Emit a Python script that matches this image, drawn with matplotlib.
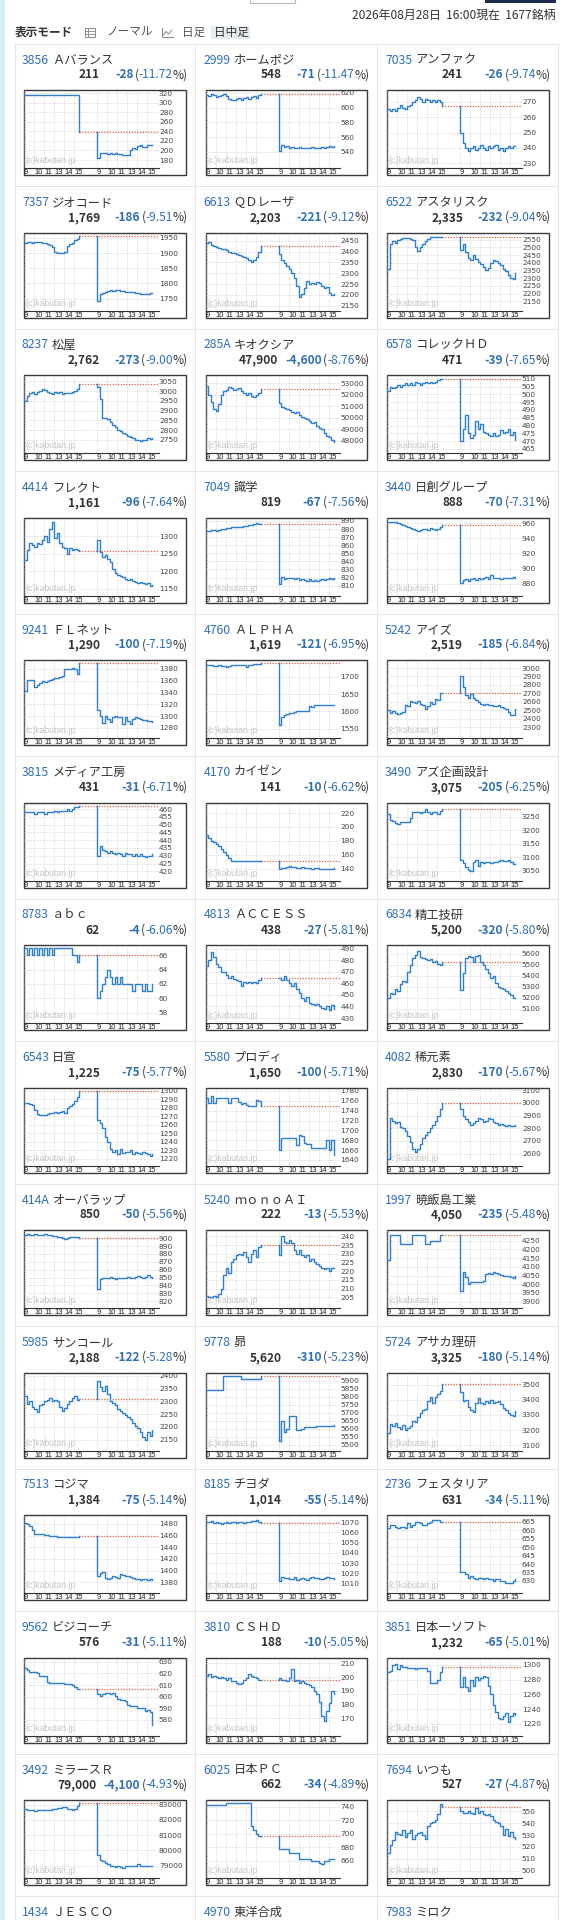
"""Kabutan-style ranking page: a 3-column grid of 2-day intraday mini charts."""
import numpy as np
import matplotlib
matplotlib.use("Agg")
import matplotlib.pyplot as plt  # noqa: E402
from matplotlib.patches import Rectangle  # noqa: E402

plt.rcParams["font.family"] = ["Noto Sans CJK JP", "DejaVu Sans"]

# ---- header / ticker data -------------------------------------------------
codes = ["3856", "2999", "7035", "7357", "6613", "6522", "8237", "285A", "6578",
         "4414", "7049", "3440", "9241", "4760", "5242", "3815", "4170", "3490",
         "8783", "4813", "6834", "6543", "5580", "4082", "414A", "5240", "1997",
         "5985", "9778", "5724", "7513", "8185", "2736", "9562", "3810", "3851",
         "3492", "6025", "7694"]
names = ["Ａバランス", "ホームポジ", "アンファク", "ジオコード", "ＱＤレーザ", "アスタリスク",
         "松屋", "キオクシア", "コレックＨＤ", "フレクト", "識学", "日創グループ",
         "ＦＬネット", "ＡＬＰＨＡ", "アイズ", "メディア工房", "カイゼン", "アズ企画設計",
         "ａｂｃ", "ＡＣＣＥＳＳ", "精工技研", "日宣", "プロディ", "稀元素",
         "オーバラップ", "ｍｏｎｏＡＩ", "暁飯島工業", "サンコール", "昴", "アサカ理研",
         "コジマ", "チヨダ", "フェスタリア", "ビジコーチ", "ＣＳＨＤ", "日本一ソフト",
         "ミラースＲ", "日本ＰＣ", "いつも"]
prices = [211, 548, 241, 1769, 2203, 2335, 2762, 47900, 471,
          1161, 819, 888, 1290, 1619, 2519, 431, 141, 3075,
          62, 438, 5200, 1225, 1650, 2830, 850, 222, 4050,
          2188, 5620, 3325, 1384, 1014, 631, 576, 188, 1232,
          79000, 662, 527]
changes = [-28, -71, -26, -186, -221, -232, -273, -4600, -39,
           -96, -67, -70, -100, -121, -185, -31, -10, -205,
           -4, -27, -320, -75, -100, -170, -50, -13, -235,
           -122, -310, -180, -75, -55, -34, -31, -10, -65,
           -4100, -34, -27]
pcts = [-11.72, -11.47, -9.74, -9.51, -9.12, -9.04, -9.00, -8.76, -7.65,
        -7.64, -7.56, -7.31, -7.19, -6.95, -6.84, -6.71, -6.62, -6.25,
        -6.06, -5.81, -5.80, -5.77, -5.71, -5.67, -5.56, -5.53, -5.48,
        -5.28, -5.23, -5.14, -5.14, -5.14, -5.11, -5.11, -5.05, -5.01,
        -4.93, -4.89, -4.87]
more_codes = ["1434", "4970", "7983"]
more_names = ["ＪＥＳＣＯ", "東洋合成", "ミロク"]

# y ranges and tick spec per chart
y_lo = [163.3, 518.3, 227, 1711, 2128, 2090, 2683, 46923, 462.4,
        1130, 797.8, 864.4, 1263, 1523, 2174, 414.1, 123, 3014.8,
        56.6, 425.7, 4970, 1212, 1628.8, 2506.6, 811.4, 198.9, 3863.5,
        2107.5, 5463.7, 3066, 1361.7, 1000.5, 622.9, 566.7, 157.5, 1203.9,
        78191, 634.3, 493.8]
y_hi = [326.3, 624, 277.6, 1968, 2488, 2597, 3082, 53727, 512.4,
        1354, 894.3, 967.3, 1395, 1749.3, 3094.6, 464.2, 235.1, 3303.7,
        67.4, 493.2, 5679, 1304, 1787, 3122, 910.3, 243.6, 4311.5,
        2413.7, 5951, 3580, 1495.4, 1077.2, 668.9, 633.6, 214.2, 1310.2,
        83306, 749.9, 559.6]
tick_first = [180, 540, 230, 1750, 2150, 2150, 2750, 48000, 465,
              1150, 810, 880, 1280, 1550, 2300, 420, 140, 3050,
              58, 430, 5100, 1220, 1640, 2600, 820, 205, 3900,
              2150, 5500, 3100, 1380, 1010, 630, 580, 170, 1220,
              79000, 660, 500]
tick_last = [320, 620, 270, 1950, 2450, 2550, 3050, 53000, 510,
             1300, 890, 960, 1380, 1700, 3000, 460, 220, 3250,
             66, 490, 5600, 1300, 1780, 3100, 900, 240, 4250,
             2400, 5900, 3500, 1480, 1070, 665, 630, 210, 1300,
             83000, 740, 550]
tick_step = [20, 20, 10, 50, 50, 50, 50, 1000, 5,
             50, 10, 20, 20, 50, 100, 5, 20, 50,
             2, 10, 100, 10, 20, 100, 10, 5, 50,
             50, 50, 100, 20, 10, 5, 10, 10, 20,
             1000, 20, 10]

hours = ["9", "10", "11", "13", "14", "15"]

# ---- intraday prices, 15-minute steps (d1 = previous day, d2 = today) ------
d1_3856 = [315, 315, 315, 315, 315, 315, 315, 315, 315, 315, 315, 315, 315, 315, 315, 315, 315, 315, 315, 315, 315, 315, 239]
d2_3856 = [184, 195, 194, 195, 193, 194, 192, 195, 193, 192, 191, 190, 190, 200, 206, 204, 209, 212, 207, 208, 211, 212, 211]
d1_2999 = [617, 616, 618, 617, 615, 616, 617, 618, 616, 612, 610, 611, 612, 613, 611, 613, 614, 612, 615, 616, 613, 617, 619]
d2_2999 = [541, 549, 547, 548, 546, 547, 545, 546, 547, 545, 546, 545, 546, 547, 546, 545, 546, 547, 546, 547, 548, 547, 548]
d1_7035 = [265, 264, 265, 264, 266, 268, 266, 265, 267, 268, 270, 271, 273, 272, 270, 272, 271, 270, 271, 270, 271, 270, 267]
d2_7035 = [250, 243, 240, 238, 240, 241, 239, 240, 242, 240, 239, 241, 240, 241, 242, 239, 240, 238, 240, 241, 240, 241, 241]
d1_7357 = [1935, 1937, 1936, 1935, 1936, 1938, 1937, 1935, 1933, 1930, 1928, 1920, 1905, 1900, 1900, 1901, 1903, 1925, 1930, 1935, 1942, 1948, 1955]
d2_7357 = [1742, 1765, 1770, 1772, 1775, 1778, 1776, 1778, 1777, 1775, 1774, 1773, 1772, 1772, 1771, 1770, 1768, 1766, 1765, 1766, 1767, 1768, 1769]
d1_6613 = [2440, 2445, 2430, 2425, 2420, 2418, 2410, 2412, 2405, 2400, 2395, 2392, 2390, 2385, 2380, 2375, 2370, 2360, 2352, 2360, 2375, 2400, 2424]
d2_6613 = [2390, 2360, 2345, 2335, 2320, 2300, 2280, 2240, 2190, 2205, 2230, 2265, 2250, 2255, 2250, 2260, 2255, 2240, 2230, 2235, 2210, 2200, 2203]
d1_6522 = [2360, 2520, 2540, 2530, 2545, 2555, 2560, 2558, 2560, 2555, 2545, 2500, 2475, 2500, 2520, 2540, 2555, 2567, 2567, 2567, 2567, 2567, 2567]
d2_6522 = [2480, 2520, 2470, 2430, 2420, 2450, 2425, 2405, 2395, 2370, 2350, 2365, 2400, 2420, 2410, 2400, 2385, 2360, 2345, 2320, 2300, 2295, 2335]
d1_8237 = [2950, 2975, 2990, 2995, 2985, 2995, 3000, 3010, 3005, 2995, 2990, 2985, 2995, 2990, 2993, 2985, 2990, 2988, 2992, 2995, 3000, 3010, 3035]
d2_8237 = [3020, 2960, 2860, 2860, 2855, 2840, 2825, 2815, 2800, 2795, 2785, 2780, 2772, 2765, 2760, 2752, 2750, 2745, 2748, 2752, 2760, 2755, 2762]
d1_285A = [52800, 52000, 51400, 50800, 50600, 51200, 52000, 52300, 52400, 52700, 52600, 52400, 52500, 52600, 52300, 52200, 52000, 52200, 51900, 51800, 52000, 52200, 52500]
d2_285A = [51300, 50900, 50850, 50800, 50650, 50500, 50400, 50500, 50200, 50100, 50000, 49850, 49700, 49500, 49600, 49300, 49100, 49000, 48700, 48400, 48300, 48100, 47900]
d1_6578 = [502, 505, 504, 505, 506, 505, 506, 507, 506, 507, 506, 508, 507, 506, 507, 508, 507, 508, 507, 508, 509, 510, 510]
d2_6578 = [470, 478, 487, 475, 472, 474, 483, 478, 481, 476, 475, 474, 473, 475, 473, 474, 477, 475, 476, 478, 474, 476, 471]
d1_4414 = [1232, 1260, 1280, 1275, 1270, 1282, 1278, 1290, 1300, 1285, 1320, 1340, 1295, 1310, 1280, 1270, 1265, 1250, 1265, 1262, 1264, 1262, 1257]
d2_4414 = [1290, 1255, 1240, 1245, 1235, 1225, 1205, 1195, 1190, 1185, 1182, 1178, 1175, 1178, 1172, 1170, 1166, 1168, 1165, 1163, 1165, 1157, 1161]
d1_7049 = [878, 878, 879, 879, 878, 879, 880, 880, 881, 881, 882, 883, 883, 882, 883, 884, 884, 885, 885, 886, 887, 886, 886]
d2_7049 = [812, 821, 818, 820, 819, 820, 818, 820, 817, 818, 817, 816, 818, 816, 817, 816, 817, 818, 817, 818, 819, 818, 819]
d1_3440 = [962, 962, 961, 961, 960, 959, 957, 956, 955, 953, 952, 951, 950, 951, 952, 952, 951, 953, 952, 951, 952, 955, 958]
d2_3440 = [881, 885, 886, 884, 886, 887, 885, 887, 886, 888, 889, 886, 891, 887, 888, 887, 886, 887, 888, 887, 888, 889, 888]
d1_9241 = [1342, 1362, 1362, 1362, 1350, 1352, 1356, 1360, 1358, 1360, 1362, 1363, 1364, 1365, 1366, 1368, 1380, 1380, 1380, 1381, 1380, 1372, 1390]
d2_9241 = [1310, 1300, 1288, 1300, 1296, 1290, 1298, 1300, 1299, 1298, 1286, 1298, 1292, 1287, 1296, 1298, 1297, 1296, 1294, 1293, 1292, 1291, 1290]
d1_4760 = [1735, 1735, 1734, 1733, 1733, 1734, 1733, 1733, 1728, 1733, 1734, 1735, 1735, 1735, 1736, 1735, 1728, 1735, 1736, 1737, 1737, 1738, 1740]
d2_4760 = [1560, 1585, 1590, 1592, 1595, 1596, 1598, 1600, 1600, 1601, 1602, 1600, 1615, 1612, 1618, 1618, 1618, 1618, 1618, 1618, 1618, 1619, 1619]
d1_5242 = [2500, 2470, 2490, 2465, 2460, 2470, 2480, 2560, 2555, 2610, 2600, 2585, 2615, 2580, 2560, 2520, 2550, 2600, 2580, 2640, 2620, 2700, 2704]
d2_5242 = [2900, 2780, 2680, 2650, 2690, 2650, 2620, 2600, 2580, 2560, 2570, 2565, 2560, 2550, 2555, 2560, 2545, 2530, 2520, 2480, 2440, 2450, 2519]
d1_3815 = [458, 458, 458, 458, 457, 458, 458, 458, 457, 458, 458, 458, 459, 458, 459, 459, 459, 460, 459, 460, 461, 461, 462]
d2_3815 = [430, 436, 434, 433, 432, 433, 432, 431, 432, 431, 430, 432, 431, 431, 430, 431, 430, 431, 430, 429, 430, 430, 431]
d1_4170 = [188, 184, 180, 178, 175, 172, 168, 164, 160, 156, 151, 151, 151, 151, 151, 151, 151, 151, 151, 151, 151, 151, 151]
d2_4170 = [140, 141, 141, 142, 144, 143, 142, 141, 141, 142, 141, 141, 141, 140, 141, 141, 140, 140, 140, 139, 140, 140, 141]
d1_3490 = [3260, 3240, 3235, 3228, 3225, 3230, 3230, 3232, 3230, 3248, 3268, 3270, 3268, 3266, 3270, 3278, 3270, 3262, 3270, 3268, 3262, 3272, 3280]
d2_3490 = [3090, 3080, 3065, 3055, 3050, 3082, 3090, 3070, 3085, 3080, 3082, 3085, 3080, 3082, 3085, 3088, 3090, 3086, 3088, 3092, 3084, 3076, 3075]
d1_8783 = [67, 66, 67, 66, 67, 66, 67, 66, 67, 66, 67, 66, 67, 67, 67, 67, 67, 67, 67, 66, 66, 65, 66]
d2_8783 = [60, 61, 62, 63, 64, 63, 62, 63, 62, 63, 62, 62, 62, 62, 61, 62, 62, 62, 61, 62, 61, 61, 62]
d1_4813 = [475, 480, 487, 483, 477, 474, 470, 470, 467, 465, 466, 464, 463, 462, 458, 461, 460, 461, 460, 461, 460, 463, 465]
d2_4813 = [465, 463, 466, 463, 460, 458, 460, 455, 452, 447, 445, 448, 443, 442, 441, 442, 440, 439, 438, 440, 437, 441, 438]
d1_6834 = [5200, 5240, 5230, 5280, 5260, 5320, 5350, 5340, 5430, 5500, 5560, 5590, 5620, 5570, 5560, 5550, 5540, 5550, 5520, 5530, 5510, 5500, 5520]
d2_6834 = [5270, 5420, 5560, 5580, 5570, 5520, 5580, 5590, 5520, 5500, 5460, 5420, 5380, 5400, 5330, 5300, 5290, 5280, 5260, 5240, 5220, 5200, 5200]
d1_6543 = [1286, 1286, 1285, 1283, 1278, 1273, 1272, 1272, 1272, 1273, 1274, 1274, 1275, 1274, 1275, 1276, 1274, 1280, 1282, 1285, 1288, 1293, 1300]
d2_6543 = [1266, 1262, 1256, 1246, 1240, 1232, 1228, 1230, 1226, 1232, 1227, 1228, 1228, 1230, 1226, 1228, 1227, 1226, 1228, 1227, 1226, 1223, 1225]
d1_5580 = [1765, 1755, 1770, 1756, 1765, 1765, 1765, 1765, 1765, 1755, 1765, 1765, 1765, 1758, 1753, 1755, 1751, 1750, 1750, 1750, 1762, 1760, 1750]
d2_5580 = [1660, 1685, 1685, 1685, 1685, 1685, 1685, 1670, 1690, 1688, 1675, 1672, 1672, 1665, 1664, 1664, 1664, 1664, 1664, 1680, 1660, 1680, 1650]
d1_4082 = [2560, 2880, 2860, 2840, 2850, 2810, 2800, 2775, 2740, 2690, 2640, 2610, 2640, 2680, 2720, 2750, 2770, 2800, 2830, 2860, 2900, 2950, 3000]
d2_4082 = [2950, 2900, 2870, 2850, 2830, 2845, 2860, 2880, 2870, 2850, 2860, 2880, 2870, 2850, 2840, 2830, 2835, 2825, 2820, 2825, 2815, 2815, 2830]
d1_414A = [904, 905, 904, 904, 905, 904, 904, 904, 905, 904, 904, 903, 903, 902, 902, 900, 899, 900, 901, 901, 902, 901, 900]
d2_414A = [835, 848, 850, 849, 850, 851, 849, 848, 850, 850, 849, 850, 851, 850, 850, 851, 852, 851, 850, 851, 853, 851, 850]
d1_5240 = [206, 205, 205, 206, 205, 207, 210, 218, 222, 219, 225, 227, 229, 230, 229, 231, 228, 225, 230, 232, 228, 234, 235]
d2_5240 = [229, 240, 237, 236, 238, 236, 232, 230, 232, 229, 228, 229, 226, 227, 225, 224, 223, 222, 221, 222, 220, 222, 222]
d1_1997 = [4140, 4285, 4285, 4285, 4285, 4230, 4230, 4230, 4230, 4230, 4285, 4285, 4285, 4285, 4285, 4230, 4230, 4250, 4250, 4250, 4250, 4285, 4285]
d2_1997 = [3960, 4070, 4040, 4000, 4015, 4010, 4010, 4010, 4012, 4020, 4060, 4062, 4060, 4070, 4062, 4058, 4055, 4050, 4048, 4045, 4040, 4035, 4050]
d1_5985 = [2320, 2290, 2300, 2280, 2270, 2260, 2285, 2290, 2300, 2305, 2312, 2300, 2305, 2302, 2280, 2262, 2275, 2290, 2300, 2315, 2320, 2305, 2310]
d2_5985 = [2380, 2355, 2340, 2360, 2330, 2300, 2295, 2285, 2270, 2262, 2255, 2245, 2240, 2230, 2215, 2205, 2195, 2180, 2160, 2150, 2180, 2165, 2188]
d1_9778 = [5840, 5840, 5840, 5840, 5840, 5840, 5840, 5930, 5930, 5930, 5930, 5930, 5930, 5930, 5910, 5910, 5910, 5910, 5910, 5910, 5910, 5910, 5930]
d2_9778 = [5520, 5650, 5580, 5600, 5680, 5680, 5680, 5590, 5590, 5600, 5610, 5610, 5610, 5612, 5612, 5615, 5615, 5615, 5615, 5615, 5615, 5618, 5620]
d1_5724 = [3180, 3240, 3225, 3245, 3220, 3210, 3235, 3200, 3215, 3230, 3260, 3255, 3290, 3310, 3335, 3340, 3390, 3420, 3380, 3420, 3440, 3460, 3505]
d2_5724 = [3450, 3390, 3400, 3350, 3330, 3320, 3380, 3410, 3380, 3375, 3390, 3380, 3400, 3380, 3385, 3390, 3370, 3345, 3335, 3315, 3300, 3295, 3325]
d1_7513 = [1482, 1480, 1476, 1470, 1463, 1462, 1463, 1462, 1461, 1461, 1460, 1460, 1459, 1458, 1458, 1457, 1457, 1458, 1457, 1458, 1457, 1458, 1459]
d2_7513 = [1390, 1396, 1398, 1387, 1385, 1388, 1390, 1389, 1387, 1394, 1392, 1390, 1391, 1389, 1388, 1386, 1385, 1384, 1386, 1385, 1384, 1385, 1384]
d1_8185 = [1070, 1070, 1071, 1069, 1070, 1069, 1068, 1069, 1070, 1069, 1070, 1070, 1069, 1070, 1070, 1069, 1070, 1070, 1071, 1071, 1072, 1070, 1069]
d2_8185 = [1012, 1016, 1015, 1015, 1014, 1014, 1016, 1013, 1014, 1015, 1014, 1013, 1015, 1016, 1015, 1015, 1014, 1014, 1015, 1016, 1015, 1015, 1014]
d1_2736 = [661, 663, 663, 662, 661, 662, 662, 661, 664, 662, 663, 665, 665, 664, 663, 663, 664, 665, 666, 666, 666, 665, 665]
d2_2736 = [635, 635, 634, 632, 633, 632, 631, 632, 632, 631, 632, 631, 631, 630, 631, 631, 630, 630, 629, 629, 629, 630, 631]
d1_9562 = [625, 623, 621, 621, 621, 620, 618, 618, 618, 613, 612, 612, 612, 612, 612, 612, 611, 611, 611, 610, 608, 607, 607]
d2_9562 = [602, 601, 602, 603, 603, 602, 603, 601, 598, 597, 597, 596, 593, 592, 592, 592, 590, 590, 590, 588, 589, 587, 576]
d1_3810 = [201, 202, 200, 201, 200, 199, 200, 199, 198, 199, 197, 197, 196, 195, 196, 198, 199, 202, 201, 200, 199, 198, 198]
d2_3810 = [199, 198, 198, 197, 199, 206, 197, 198, 196, 197, 196, 195, 194, 193, 190, 188, 182, 172, 168, 175, 181, 190, 188]
d1_3851 = [1290, 1292, 1300, 1301, 1295, 1300, 1297, 1297, 1296, 1296, 1296, 1295, 1296, 1296, 1296, 1296, 1292, 1276, 1276, 1275, 1280, 1290, 1297]
d2_3851 = [1270, 1283, 1270, 1265, 1280, 1272, 1283, 1280, 1282, 1285, 1283, 1272, 1260, 1245, 1236, 1228, 1226, 1230, 1235, 1222, 1230, 1235, 1232]
d1_3492 = [82700, 82680, 82650, 82640, 82600, 82620, 82650, 82640, 82620, 82630, 82680, 82700, 82720, 82780, 82800, 82850, 82820, 82720, 82700, 82650, 82700, 82900, 83100]
d2_3492 = [79700, 79400, 79300, 79200, 79100, 79000, 78950, 78900, 78950, 78900, 78850, 78950, 79000, 78950, 78950, 79000, 79100, 78980, 78950, 79000, 78980, 78950, 79000]
d1_6025 = [743, 743, 743, 743, 743, 743, 743, 743, 745, 745, 745, 745, 745, 745, 745, 745, 745, 745, 712, 705, 700, 697, 696]
d2_6025 = [678, 678, 678, 678, 672, 672, 672, 672, 662, 662, 662, 662, 662, 660, 660, 660, 657, 655, 660, 660, 662, 662, 662]
d1_7694 = [515, 522, 526, 533, 531, 530, 534, 528, 532, 534, 527, 530, 532, 533, 530, 527, 538, 540, 541, 543, 548, 556, 554]
d2_7694 = [550, 549, 549, 550, 549, 548, 553, 549, 550, 548, 547, 548, 546, 543, 541, 540, 538, 530, 535, 529, 533, 528, 527]

series = {
    "3856": (d1_3856, d2_3856), "2999": (d1_2999, d2_2999), "7035": (d1_7035, d2_7035),
    "7357": (d1_7357, d2_7357), "6613": (d1_6613, d2_6613), "6522": (d1_6522, d2_6522),
    "8237": (d1_8237, d2_8237), "285A": (d1_285A, d2_285A), "6578": (d1_6578, d2_6578),
    "4414": (d1_4414, d2_4414), "7049": (d1_7049, d2_7049), "3440": (d1_3440, d2_3440),
    "9241": (d1_9241, d2_9241), "4760": (d1_4760, d2_4760), "5242": (d1_5242, d2_5242),
    "3815": (d1_3815, d2_3815), "4170": (d1_4170, d2_4170), "3490": (d1_3490, d2_3490),
    "8783": (d1_8783, d2_8783), "4813": (d1_4813, d2_4813), "6834": (d1_6834, d2_6834),
    "6543": (d1_6543, d2_6543), "5580": (d1_5580, d2_5580), "4082": (d1_4082, d2_4082),
    "414A": (d1_414A, d2_414A), "5240": (d1_5240, d2_5240), "1997": (d1_1997, d2_1997),
    "5985": (d1_5985, d2_5985), "9778": (d1_9778, d2_9778), "5724": (d1_5724, d2_5724),
    "7513": (d1_7513, d2_7513), "8185": (d1_8185, d2_8185), "2736": (d1_2736, d2_2736),
    "9562": (d1_9562, d2_9562), "3810": (d1_3810, d2_3810), "3851": (d1_3851, d2_3851),
    "3492": (d1_3492, d2_3492), "6025": (d1_6025, d2_6025), "7694": (d1_7694, d2_7694),
}

# ---- layout (pixels) ------------------------------------------------------
W, H = 572, 1920
COL_X = [24, 205.5, 387]
ROW_T0, ROW_DY = 90, 142.5
BOX_W, BOX_H = 161.5, 85
PLOT_W, PLOT_H = 134.5, 78
STEP, DAY2, XMAX = 0.25, 7.3, 13.45   # hours on a lunch-compressed axis

BLUE = "#2f6fb6"
DARK = "#333333"
LINE = "#2f7fd0"
RED = "#e4663f"

fig = plt.figure(figsize=(W / 100, H / 100), dpi=100)
page = fig.add_axes([0, 0, 1, 1])
page.set_xlim(0, W)
page.set_ylim(H, 0)
page.axis("off")
r = fig.canvas.get_renderer()


def put(x, y, s, ha="left", **kw):
    t = page.text(x, y, s, ha=ha, va="center", **kw)
    bb = t.get_window_extent(renderer=r)
    return bb.x0, bb.x1


# page chrome
page.add_patch(Rectangle((0, 0), 5, H, fc="#d6eef6", lw=0))
page.add_patch(Rectangle((250, -4), 45, 6.7, fill=False, ec="#bbbbbb", lw=0.8))
page.add_patch(Rectangle((485, -4), 71, 7, fc="#1d2c4f", lw=0))
put(556, 15, "2026年08月28日  16:00現在  1677銘柄", ha="right", fontsize=8.6, color=DARK)
put(14.6, 32, "表示モード", fontsize=8.4, fontweight="bold", color=DARK)
page.add_patch(Rectangle((84.5, 27.5), 10.5, 9, fill=False, ec="#888888", lw=0.7))
page.plot([84.5, 95], [30.5, 30.5], color="#888888", lw=0.6)
page.plot([84.5, 95], [33.5, 33.5], color="#888888", lw=0.6)
page.plot([88, 88], [27.5, 36.5], color="#888888", lw=0.6)
put(106, 32, "ノーマル", fontsize=8.4, color="#555555")
page.plot([162, 162, 173], [27.5, 37, 37], color="#888888", lw=0.7)
page.plot([163.5, 166, 168.5, 172], [35, 31.5, 34, 30], color="#888888", lw=0.7)
put(182, 32, "日足", fontsize=8.4, color="#555555")
page.add_patch(Rectangle((211, 25.5), 39, 13.5, fc="#e6ecf2", lw=0))
put(213.5, 32, "日中足", fontsize=8.4, color=DARK)

# card grid lines
for k in range(14):
    y = ROW_T0 + ROW_DY * k - 46.5
    page.plot([14.6, 558], [y, y], color="#e6e6e6", lw=0.8)
for x in [14.6, 195, 376.5, 558]:
    page.plot([x, x], [ROW_T0 - 46.5, H], color="#e6e6e6", lw=0.8)

xt = [h + d for d in (0, DAY2) for h in range(6)]

for i, code in enumerate(codes):
    row, col = divmod(i, 3)
    T = ROW_T0 + ROW_DY * row
    L = COL_X[col]

    # title and price line
    _, x1 = put(L - 2, T - 30, code, fontsize=8.8, color=BLUE)
    put(x1 + 3, T - 30, names[i], fontsize=8.8, color=DARK)
    yp = T - 15
    a, _ = put(L + BOX_W + 2.5, yp, "%)", ha="right", fontsize=8.6, color=DARK)
    a, _ = put(a, yp, f"{pcts[i]:.2f}", ha="right", fontsize=8.6, color=BLUE)
    a, _ = put(a, yp, "(", ha="right", fontsize=8.6, color=DARK)
    a, _ = put(a - 1.5, yp, f"{changes[i]:,}", ha="right", fontsize=8.6,
               fontweight="bold", color=BLUE)
    put(min(L + 76, a - 7), yp, f"{prices[i]:,}", ha="right", fontsize=8.6,
        fontweight="bold", color=DARK)

    # chart frame
    page.add_patch(Rectangle((L, T), BOX_W, BOX_H, fc="white", ec="#3a3a3a", lw=1.0))
    ax = fig.add_axes([L / W, 1 - (T + PLOT_H) / H, PLOT_W / W, PLOT_H / H])
    ax.set_facecolor("none")

    d1, d2 = series[code]
    prev = prices[i] - changes[i]
    x1s = np.arange(len(d1)) * STEP
    x2s = DAY2 + np.arange(len(d2)) * STEP
    ax.plot(x1s, d1, drawstyle="steps-post", color=LINE, lw=1.0, zorder=3)
    ax.plot(np.r_[DAY2, x2s], np.r_[prev, d2], drawstyle="steps-post",
            color=LINE, lw=1.0, zorder=3)
    ax.hlines(prev, x1s[-1], XMAX, colors=RED, linestyles=(0, (1, 1.2)), lw=0.9, zorder=2)

    ax.set_xlim(0, XMAX)
    ax.set_ylim(y_lo[i], y_hi[i])
    yt = np.arange(tick_first[i], tick_last[i] + tick_step[i] / 2, tick_step[i])
    ax.set_yticks(yt)
    ax.set_yticklabels([str(int(v)) for v in yt], family="DejaVu Sans")
    ax.yaxis.tick_right()
    ax.tick_params(axis="y", length=0, pad=0.3, labelsize=5.3, labelcolor="#444444")
    ax.set_xticks(xt)
    ax.set_xticklabels(hours * 2, family="Liberation Sans")
    ax.tick_params(axis="x", length=0, pad=0.8, labelsize=5.5, labelcolor="#222222")
    for lbl in ax.get_xticklabels():
        lbl.set_ha("left")
    for s in ("top", "right", "left"):
        ax.spines[s].set_visible(False)
    ax.spines["bottom"].set_color("#333333")
    ax.spines["bottom"].set_linewidth(0.8)
    ax.grid(True, color="#c4c4c4", lw=0.5, ls=(0, (1, 1.5)))
    ax.set_axisbelow(True)
    ax.text(0.012, 0.09, "(c)kabutan.jp", transform=ax.transAxes, va="center",
            fontsize=6.2, color="#c6c6c6", family="Liberation Sans", zorder=1)

# next row, only the titles show
T = ROW_T0 + ROW_DY * 13
for col, (code, name) in enumerate(zip(more_codes, more_names)):
    L = COL_X[col]
    _, x1 = put(L - 2, T - 30, code, fontsize=8.8, color=BLUE)
    put(x1 + 3, T - 30, name, fontsize=8.8, color=DARK)

fig.savefig("out.png", dpi=100)
